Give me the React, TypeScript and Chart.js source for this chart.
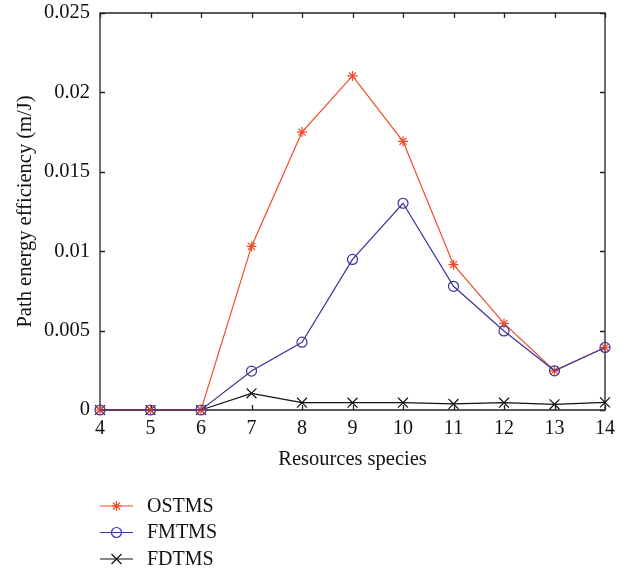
import { useEffect, useRef } from "react";
import { Chart, registerables } from "chart.js";

Chart.register(...registerables);

const categories = ["4", "5", "6", "7", "8", "9", "10", "11", "12", "13", "14"];
const ostms = [0, 0, 0, 0.0103, 0.0175, 0.02104, 0.01692, 0.00915, 0.00545, 0.00247, 0.00394];
const fmtms = [0, 0, 0, 0.00245, 0.00427, 0.00948, 0.01302, 0.00779, 0.00498, 0.00247, 0.00394];
const fdtms = [0, 0, 0, 0.00105, 0.00046, 0.00046, 0.00046, 0.00038, 0.00046, 0.00036, 0.00048];
const yTicks = [0, 0.005, 0.01, 0.015, 0.02, 0.025];
const seriesNames = ["OSTMS", "FMTMS", "FDTMS"];

const RED = "#f24a2b";
const BLUE = "#3b3499";
const BLACK = "#111111";
const AXIS = "#222222";
const FONT = "'Liberation Serif', 'Times New Roman', serif";

function drawMarker(ctx: CanvasRenderingContext2D, kind: string, x: number, y: number, color: string) {
  ctx.save();
  ctx.strokeStyle = color;
  ctx.lineWidth = 1.2;
  ctx.beginPath();
  if (kind === "star") {
    const r = 5;
    const d = r * Math.SQRT1_2;
    ctx.moveTo(x - r, y); ctx.lineTo(x + r, y);
    ctx.moveTo(x, y - r); ctx.lineTo(x, y + r);
    ctx.moveTo(x - d, y - d); ctx.lineTo(x + d, y + d);
    ctx.moveTo(x - d, y + d); ctx.lineTo(x + d, y - d);
  } else if (kind === "circle") {
    ctx.arc(x, y, 5, 0, Math.PI * 2);
  } else {
    const d = 5;
    ctx.moveTo(x - d, y - d); ctx.lineTo(x + d, y + d);
    ctx.moveTo(x - d, y + d); ctx.lineTo(x + d, y - d);
  }
  ctx.stroke();
  ctx.restore();
}

const boxPlugin = {
  id: "boxTicks",
  beforeDatasetsDraw(chart: any) {
    const { ctx, chartArea } = chart;
    const { left, right, top, bottom } = chartArea;
    const xs = chart.scales.x;
    const ys = chart.scales.y;
    const tl = 5;
    ctx.save();
    ctx.strokeStyle = AXIS;
    ctx.lineWidth = 1.3;
    ctx.beginPath();
    ctx.rect(left, top, right - left, bottom - top);
    for (let i = 0; i < categories.length; i++) {
      const px = Math.round(xs.getPixelForValue(i)) + 0.5;
      ctx.moveTo(px, bottom); ctx.lineTo(px, bottom - tl);
      ctx.moveTo(px, top); ctx.lineTo(px, top + tl);
    }
    for (const v of yTicks) {
      const py = Math.round(ys.getPixelForValue(v)) + 0.5;
      ctx.moveTo(left, py); ctx.lineTo(left + tl, py);
      ctx.moveTo(right, py); ctx.lineTo(right - tl, py);
    }
    ctx.stroke();
    ctx.restore();
  },
  afterDraw(chart: any) {
    const { ctx } = chart;
    const kinds = ["star", "circle", "cross"];
    const colors = [RED, BLUE, BLACK];
    const ys = [506, 532.5, 559];
    ctx.save();
    for (let i = 0; i < seriesNames.length; i++) {
      const y = ys[i];
      ctx.strokeStyle = colors[i];
      ctx.lineWidth = 1.2;
      ctx.beginPath();
      ctx.moveTo(100, y);
      ctx.lineTo(133, y);
      ctx.stroke();
      drawMarker(ctx, kinds[i], 116.5, y, colors[i]);
      ctx.fillStyle = "#111";
      ctx.font = `20px ${FONT}`;
      ctx.textBaseline = "middle";
      ctx.textAlign = "left";
      ctx.fillText(seriesNames[i], 147, y + 0.5);
    }
    ctx.restore();
  },
};

export default function App() {
  const ref = useRef<HTMLCanvasElement | null>(null);
  useEffect(() => {
    if (!ref.current) return;
    const chart = new Chart(ref.current, {
      type: "line",
      data: {
        labels: categories,
        datasets: [
          {
            label: seriesNames[0],
            data: ostms,
            borderColor: RED,
            backgroundColor: RED,
            borderWidth: 1.2,
            pointStyle: "star",
            pointRadius: 5,
            pointBorderWidth: 1.2,
            pointBorderColor: RED,
            pointBackgroundColor: "transparent",
            clip: false,
            order: 1,
          } as any,
          {
            label: seriesNames[1],
            data: fmtms,
            borderColor: BLUE,
            backgroundColor: BLUE,
            borderWidth: 1.2,
            pointStyle: "circle",
            pointRadius: 5,
            pointBorderWidth: 1.2,
            pointBorderColor: BLUE,
            pointBackgroundColor: "transparent",
            clip: false,
            order: 0,
          } as any,
          {
            label: seriesNames[2],
            data: fdtms,
            borderColor: BLACK,
            backgroundColor: BLACK,
            borderWidth: 1.2,
            pointStyle: "crossRot",
            pointRadius: 7,
            pointBorderWidth: 1.2,
            pointBorderColor: BLACK,
            pointBackgroundColor: "transparent",
            clip: false,
            order: 2,
          } as any,
        ],
      },
      options: {
        animation: false,
        responsive: false,
        maintainAspectRatio: false,
        layout: { padding: { top: 13, right: 22, left: 0, bottom: 0 } },
        plugins: {
          legend: { display: false },
          tooltip: { enabled: false },
        },
        scales: {
          x: {
            type: "category",
            offset: false,
            grid: { display: false, drawTicks: false },
            border: { display: false },
            ticks: {
              color: "#111",
              padding: 7,
              maxRotation: 0,
              autoSkip: false,
              font: { family: FONT, size: 20 },
            },
            title: {
              display: true,
              text: "Resources species",
              color: "#111",
              font: { family: FONT, size: 20.5 },
              padding: { top: 0, bottom: 96 },
            },
            afterFit(scale: any) {
              scale.height = 158;
              scale.paddingLeft = 0;
              scale.paddingRight = 0;
            },
          },
          y: {
            type: "linear",
            min: 0,
            max: 0.025,
            grid: { display: false, drawTicks: false },
            border: { display: false },
            afterBuildTicks(scale: any) {
              scale.ticks = yTicks.map((v) => ({ value: v }));
            },
            ticks: {
              color: "#111",
              padding: 10,
              font: { family: FONT, size: 20.5 },
              callback: (v: any) => String(Number(Number(v).toFixed(3))),
            },
            title: {
              display: true,
              text: "Path energy efficiency (m/J)",
              color: "#111",
              font: { family: FONT, size: 20.5 },
              padding: { top: 13, bottom: 0 },
            },
            afterFit(scale: any) {
              scale.width = 100;
              scale.paddingTop = 0;
              scale.paddingBottom = 0;
            },
          },
        },
      },
      plugins: [boxPlugin],
    });
    return () => chart.destroy();
  }, []);
  return (
    <div style={{ position: "fixed", left: 0, top: 0, width: 627, height: 568, background: "#fff" }}>
      <canvas ref={ref} width={627} height={568} style={{ width: 627, height: 568, display: "block" }} />
    </div>
  );
}
